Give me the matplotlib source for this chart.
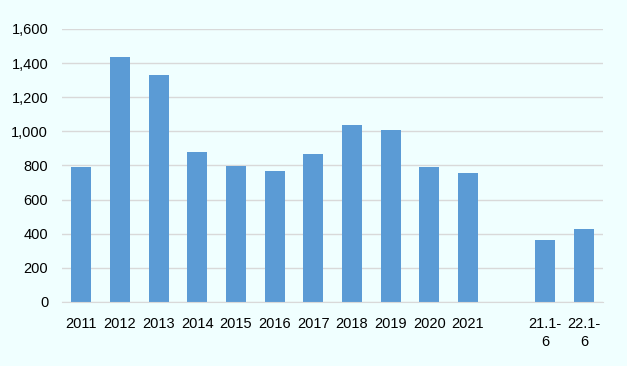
import matplotlib
matplotlib.use("Agg")
import matplotlib.pyplot as plt
from matplotlib.ticker import FuncFormatter

# categories and values
labels = ['2011', '2012', '2013', '2014', '2015', '2016', '2017', '2018',
          '2019', '2020', '2021', '', '21.1-\n6', '22.1-\n6']
values = [791, 1436, 1330, 879, 797, 768, 867, 1037,
          1008, 791, 756, None, 363, 427]

bg = '#F0FFFF'
bar_color = '#5B9BD5'
grid_color = '#D9D9D9'

plt.rcParams['font.family'] = ['Liberation Sans', 'DejaVu Sans']

fig = plt.figure(figsize=(6.27, 3.66), dpi=100, facecolor=bg)
ax = fig.add_axes([0.099, 0.175, 0.863, 0.746], facecolor=bg)

xs = [i for i, v in enumerate(values) if v is not None]
hs = [v for v in values if v is not None]
ax.bar(xs, hs, width=0.52, color=bar_color, zorder=3)

ax.set_xlim(-0.5, len(labels) - 0.5)
ax.set_ylim(0, 1600)
ax.set_yticks(range(0, 1601, 200))
ax.yaxis.set_major_formatter(FuncFormatter(lambda v, p: '{:,.0f}'.format(v)))
ax.set_xticks(range(len(labels)))
ax.set_xticklabels(labels, linespacing=1.35)

ax.grid(axis='y', color=grid_color, linewidth=1, zorder=0)
for s in ['top', 'right', 'left']:
    ax.spines[s].set_visible(False)
ax.spines['bottom'].set_color(grid_color)
ax.spines['bottom'].set_zorder(4)
ax.tick_params(axis='both', length=0, labelsize=10.5, colors='black')
ax.tick_params(axis='x', pad=11)
ax.tick_params(axis='y', pad=10)
for t in ax.get_xticklabels():
    t.set_verticalalignment('top')

fig.savefig('out.png', dpi=100, facecolor=bg)
